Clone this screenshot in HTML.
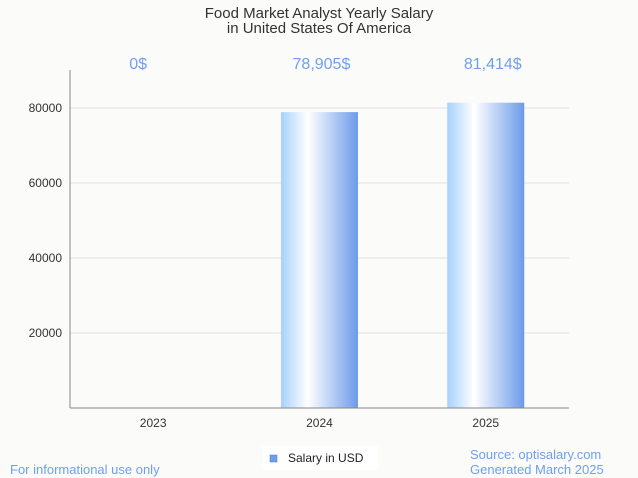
<!DOCTYPE html>
<html><head><meta charset="utf-8"><style>
body{margin:0;background:#fbfbf9;font-family:"Liberation Sans",sans-serif;}
svg{display:block}
</style></head><body>
<svg width="638" height="478" xmlns="http://www.w3.org/2000/svg">
<defs><linearGradient id="g" x1="0" x2="1" y1="0" y2="0">
<stop offset="0" stop-color="#a6d2fc"/><stop offset="0.35" stop-color="#ffffff"/><stop offset="1" stop-color="#6c9aea"/>
</linearGradient></defs>
<rect width="638" height="478" fill="#fbfbf9"/>
<text x="319" y="18" text-anchor="middle" font-size="15" fill="#333">Food Market Analyst Yearly Salary</text>
<text x="319" y="33" text-anchor="middle" font-size="15" fill="#333">in United States Of America</text>
<g id="grid"></g>
<g id="bars"></g>
<line x1="70" y1="70" x2="70" y2="408" stroke="#888"/>
<line x1="70" y1="408" x2="569" y2="408" stroke="#888"/>
<rect x="262" y="446" width="116" height="24" fill="#fff"/>
<rect x="270" y="455" width="7" height="7" fill="#6ea0ea" stroke="#4a78c0" stroke-width="0.5"/>
<text x="288" y="462" font-size="12" fill="#222">Salary in USD</text>
<text x="10" y="474" font-size="13" fill="#6f9ff0">For informational use only</text>
<text x="470" y="459" font-size="13" fill="#6f9ff0">Source: optisalary.com</text>
<text x="470" y="474" font-size="13" fill="#6f9ff0">Generated March 2025</text>
</svg>
<script>
const categories=["2023","2024","2025"];
const values=[0,78905,81414];
const valueLabels=["0$","78,905$","81,414$"];
const yTicks=[20000,40000,60000,80000];
const labelShift=[-15,2,7];
const NS="http://www.w3.org/2000/svg";
const y=v=>408-v*75/20000;
const x=i=>70+(i+0.5)*166.3;
const grid=document.getElementById('grid'),bars=document.getElementById('bars');
function mk(tag,attrs,parent,txt){const e=document.createElementNS(NS,tag);for(const k in attrs)e.setAttribute(k,attrs[k]);if(txt!==undefined)e.textContent=txt;parent.appendChild(e);return e;}
yTicks.forEach(t=>{
  const l=mk('line',{x1:70,x2:569,y1:y(t),y2:y(t),stroke:'#e0e0e0'},grid);
  
  
  const tx=mk('text',{x:62,y:y(t)+4,'text-anchor':'end','font-size':12,fill:'#333'},grid,String(t));
  
  
});
categories.forEach((c,i)=>{
  const h=408-y(values[i]);
  const r=mk('rect',{x:x(i)-38.5,y:y(values[i]),width:77,height:h,fill:'url(#g)'},bars);
  
  
  const t=mk('text',{x:x(i),y:427,'text-anchor':'middle','font-size':12,fill:'#333'},bars,c);
  
  
  const v=mk('text',{x:x(i)+labelShift[i],y:69,'text-anchor':'middle','font-size':16,fill:'#6f9ff0'},bars,valueLabels[i]);
  
  
});
</script>
</body></html>
